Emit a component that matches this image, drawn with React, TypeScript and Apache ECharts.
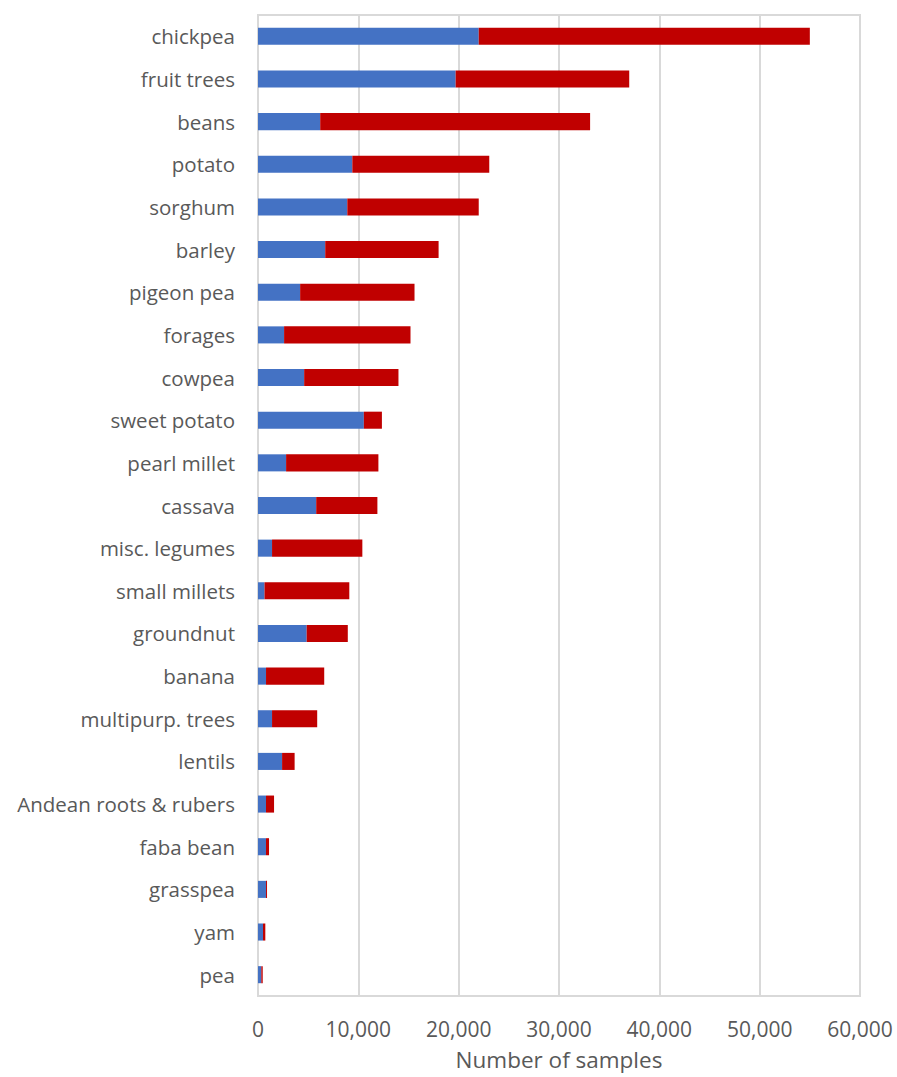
import React, { useEffect, useRef } from "react";
import * as echarts from "echarts";

const categories = [
  "chickpea", "fruit trees", "beans", "potato", "sorghum", "barley", "pigeon pea",
  "forages", "cowpea", "sweet potato", "pearl millet", "cassava", "misc. legumes",
  "small millets", "groundnut", "banana", "multipurp. trees", "lentils",
  "Andean roots & rubers", "faba bean", "grasspea", "yam", "pea",
];
const blueValues = [
  22000, 19700, 6200, 9400, 8900, 6700, 4200, 2600, 4600, 10550, 2800, 5800, 1400,
  650, 4850, 800, 1400, 2400, 800, 800, 800, 500, 330,
];
const redValues = [
  33000, 17300, 26900, 13650, 13100, 11300, 11400, 12600, 9400, 1800, 9200, 6100, 9000,
  8450, 4100, 5800, 4500, 1250, 800, 300, 100, 230, 140,
];
const xTicks = { min: 0, max: 60000, interval: 10000 };

export default function App() {
  const ref = useRef<HTMLDivElement>(null);
  useEffect(() => {
    const chart = echarts.init(ref.current!, null, { renderer: "svg" });
    const font = "'Open Sans', 'Noto Sans', sans-serif";
    chart.setOption({
      animation: false,
      backgroundColor: "#ffffff",
      grid: {
        left: 258, right: 37, top: 15, bottom: 81,
        show: true, borderColor: "#d9d9d9", borderWidth: 2,
        containLabel: false,
        outerBoundsMode: "none",
      },
      xAxis: {
        type: "value",
        min: xTicks.min, max: xTicks.max, interval: xTicks.interval,
        axisLine: { show: false },
        axisTick: { show: false },
        splitLine: { show: true, lineStyle: { color: "#d9d9d9", width: 2 } },
        axisLabel: {
          color: "#595959", fontSize: 21, fontFamily: font, margin: 22,
          formatter: (v: number) => v.toLocaleString("en-US"),
        },
        name: "Number of samples",
        nameLocation: "middle",
        nameGap: 52,
        nameTextStyle: { color: "#595959", fontSize: 22.5, fontFamily: font },
      },
      yAxis: {
        type: "category",
        data: categories,
        inverse: true,
        axisLine: { show: false },
        axisTick: { show: false },
        axisLabel: { color: "#595959", fontSize: 20.5, fontFamily: font, margin: 23 },
      },
      series: [
        {
          type: "bar", stack: "s", data: blueValues, barCategoryGap: "60%",
          itemStyle: { color: "#4472c4" },
        },
        {
          type: "bar", stack: "s", data: redValues, barCategoryGap: "60%",
          itemStyle: { color: "#c00000" },
        },
      ],
    });
    return () => chart.dispose();
  }, []);
  return (
    <div
      ref={ref}
      style={{ position: "absolute", left: 0, top: 0, width: 897, height: 1077 }}
    />
  );
}
